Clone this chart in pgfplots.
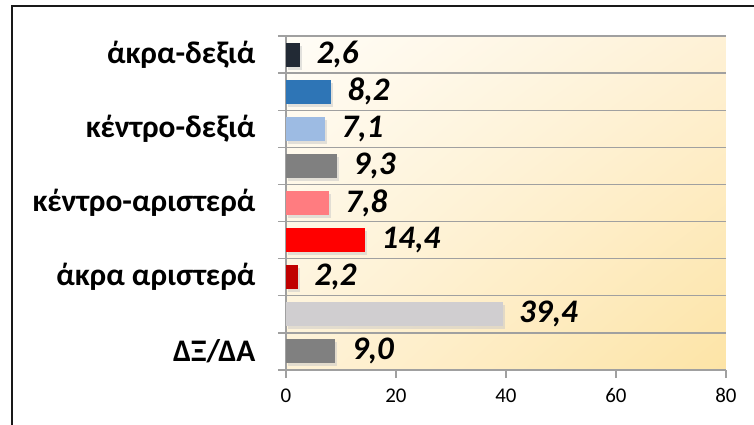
\documentclass[border=0pt]{standalone}
\usepackage{pgfplots}
\pgfplotsset{compat=1.18}
\usetikzlibrary{shadings}
\usepackage{fontspec}
\setmainfont{Carlito}
\definecolor{gridc}{RGB}{160,160,160}
\definecolor{cA}{RGB}{128,128,128}
\definecolor{cB}{RGB}{208,206,208}
\definecolor{cC}{RGB}{192,0,0}
\definecolor{cD}{RGB}{255,0,0}
\definecolor{cE}{RGB}{255,124,128}
\definecolor{cF}{RGB}{128,128,128}
\definecolor{cG}{RGB}{157,187,227}
\definecolor{cH}{RGB}{46,117,182}
\definecolor{cI}{RGB}{34,42,53}
\definecolor{bgTL}{RGB}{255,253,247}
\definecolor{bgTR}{RGB}{254,241,214}
\definecolor{bgBL}{RGB}{254,242,215}
\definecolor{bgBR}{RGB}{253,228,166}
\begin{document}
\begin{tikzpicture}
\useasboundingbox (-286bp,-55bp) rectangle (468bp,370bp);
\draw[line width=2bp, black!90] (-274bp,-70bp) -- (-274bp,364bp) -- (480bp,364bp);
\begin{axis}[
  at={(0,0)}, anchor=south west,
  scale only axis, width=440bp, height=334bp,
  xmin=0, xmax=80, ymin=0.5, ymax=9.5,
  xbar, bar width=24bp,
  axis x line=bottom, axis y line=left,
  axis line style={-, gridc, line width=1.3bp},
  every tick/.style={gridc, line width=1.3bp},
  tick align=outside,
  major tick length=8bp,
  xtick={0,20,40,60,80},
  ytick={0.5,1.5,...,9.5},
  yticklabels={},
  ymajorgrids,
  major grid style={gridc, line width=1.3bp},
  axis background/.style={shade, upper left=bgTL, upper right=bgTR, lower left=bgBL, lower right=bgBR},
  /pgf/number format/assume math mode=true,
  xticklabel style={font=\fontsize{21}{22}\selectfont, text=black, yshift=-7bp},
  extra y ticks={1,3,5,7,9},
  extra y tick labels={ΔΞ/ΔΑ,άκρα αριστερά,κέντρο-αριστερά,κέντρο-δεξιά,άκρα-δεξιά},
  extra y tick style={major tick length=0pt, grid=none,
     yticklabel style={font=\fontsize{31.5}{33}\selectfont\bfseries, text=black, xshift=-27bp}},
  nodes near coords,
  nodes near coords style={font=\fontsize{33}{34}\selectfont\bfseries\itshape, text=black, anchor=west, xshift=13bp,
     /pgf/number format/.cd, fixed, fixed zerofill, precision=1, use comma, assume math mode=true},
  every axis plot/.append style={bar shift=0pt, draw=none,
     preaction={fill=black!22, opacity=0.5, transform canvas={xshift=2bp, yshift=-3bp}}},
  clip=false,
]
\addplot[fill=cA] coordinates {(9.0,1)};
\addplot[fill=cB] coordinates {(39.4,2)};
\addplot[fill=cC] coordinates {(2.2,3)};
\addplot[fill=cD] coordinates {(14.4,4)};
\addplot[fill=cE] coordinates {(7.8,5)};
\addplot[fill=cF] coordinates {(9.3,6)};
\addplot[fill=cG] coordinates {(7.1,7)};
\addplot[fill=cH] coordinates {(8.2,8)};
\addplot[fill=cI] coordinates {(2.6,9)};
\end{axis}
\end{tikzpicture}
\end{document}
